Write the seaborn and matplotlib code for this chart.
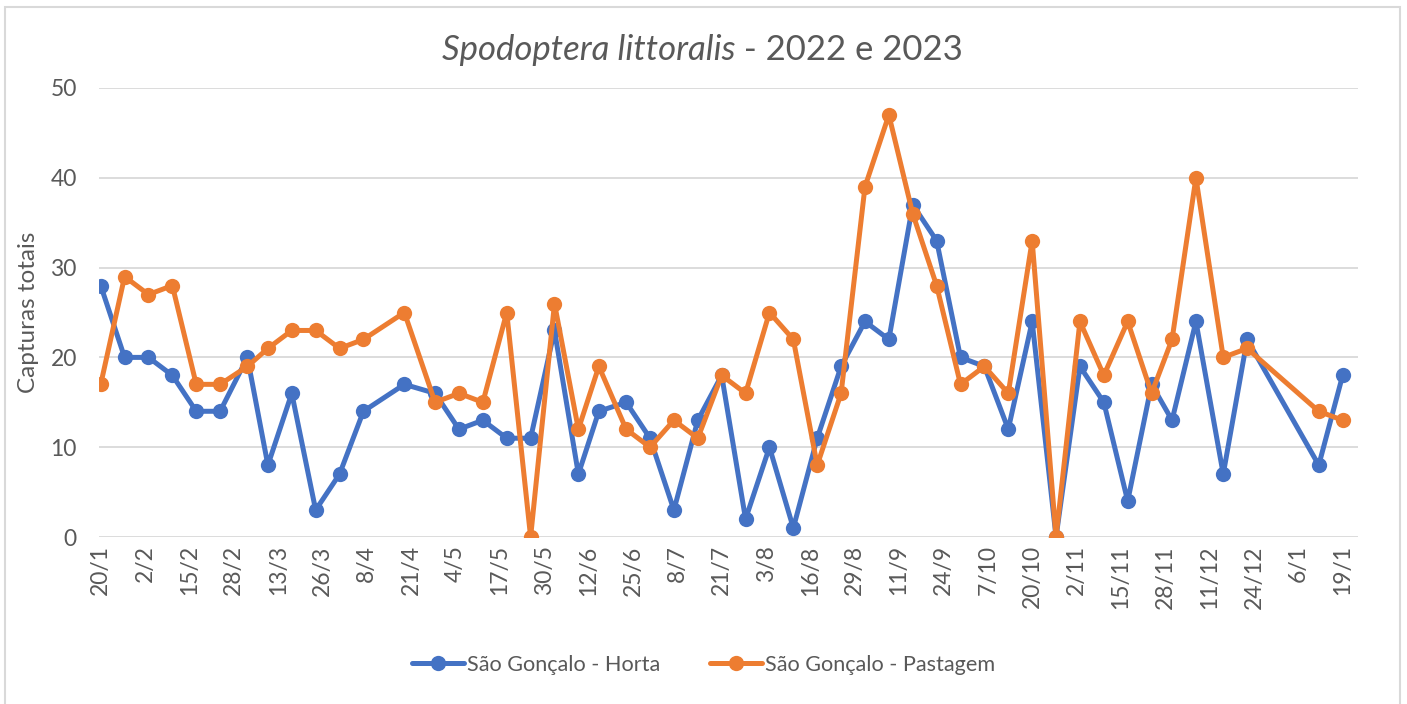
import pandas as pd
import numpy as np
import matplotlib
matplotlib.use("Agg")
import matplotlib.pyplot as plt
import matplotlib.dates as mdates
from matplotlib.ticker import FuncFormatter
from matplotlib.patches import Rectangle
import seaborn as sns

# sampling dates (2022-2023)
datas = ["2022-01-20", "2022-01-27", "2022-02-03", "2022-02-10", "2022-02-17",
         "2022-02-24", "2022-03-04", "2022-03-10", "2022-03-17", "2022-03-24",
         "2022-03-31", "2022-04-07", "2022-04-19", "2022-04-28", "2022-05-05",
         "2022-05-12", "2022-05-19", "2022-05-26", "2022-06-02", "2022-06-09",
         "2022-06-15", "2022-06-23", "2022-06-30", "2022-07-07", "2022-07-14",
         "2022-07-21", "2022-07-28", "2022-08-04", "2022-08-11", "2022-08-18",
         "2022-08-25", "2022-09-01", "2022-09-08", "2022-09-15", "2022-09-22",
         "2022-09-29", "2022-10-06", "2022-10-13", "2022-10-20", "2022-10-27",
         "2022-11-03", "2022-11-10", "2022-11-17", "2022-11-24", "2022-11-30",
         "2022-12-07", "2022-12-15", "2022-12-22", "2023-01-12", "2023-01-19"]

horta = [28, 20, 20, 18, 14, 14, 20, 8, 16, 3,
         7, 14, 17, 16, 12, 13, 11, 11, 23, 7,
         14, 15, 11, 3, 13, 18, 2, 10, 1, 11,
         19, 24, 22, 37, 33, 20, 19, 12, 24, 0,
         19, 15, 4, 17, 13, 24, 7, 22, 8, 18]

pastagem = [17, 29, 27, 28, 17, 17, 19, 21, 23, 23,
            21, 22, 25, 15, 16, 15, 25, 0, 26, 12,
            19, 12, 10, 13, 11, 18, 16, 25, 22, 8,
            16, 39, 47, 36, 28, 17, 19, 16, 33, 0,
            24, 18, 24, 16, 22, 40, 20, 21, 14, 13]

series_names = ["São Gonçalo - Horta", "São Gonçalo - Pastagem"]
cores = ["#4472C4", "#ED7D31"]

# long format table for seaborn
df = pd.DataFrame({
    "data": pd.to_datetime(datas * 2),
    "capturas": horta + pastagem,
    "local": [series_names[0]] * len(horta) + [series_names[1]] * len(pastagem),
})

sns.set_theme(style="white")
plt.rcParams["font.family"] = ["Lato", "DejaVu Sans"]
grey = "#595959"

fig = plt.figure(figsize=(14.07, 7.04), dpi=100)
ax = fig.add_axes([99 / 1407, 1 - 537 / 704, (1358 - 99) / 1407, (537 - 88) / 704])

sns.lineplot(data=df, x="data", y="capturas", hue="local", palette=cores,
             marker="o", markersize=11, markeredgewidth=0, linewidth=3.6,
             legend=False, ax=ax, zorder=3)

# axes
start = pd.Timestamp("2022-01-20")
ax.set_xlim(mdates.date2num(start - pd.Timedelta(hours=12)),
            mdates.date2num(pd.Timestamp("2023-01-19") + pd.Timedelta(days=4.5)))
ticks = pd.date_range(start, "2023-01-19", freq="13D")
ax.set_xticks(mdates.date2num(ticks))
ax.xaxis.set_major_formatter(FuncFormatter(
    lambda v, p: f"{mdates.num2date(v).day}/{mdates.num2date(v).month}"))
ax.set_ylim(0, 50)
ax.set_yticks(range(0, 51, 10))
ax.tick_params(axis="x", labelrotation=90, length=0, labelsize=16.5, labelcolor=grey, pad=6)
ax.tick_params(axis="y", length=0, labelsize=16.5, labelcolor=grey, pad=16)
ax.grid(axis="y", color="#D9D9D9", linewidth=1.3)
ax.set_axisbelow(True)
for s in ax.spines.values():
    s.set_visible(False)
ax.set_xlabel("")
ax.set_ylabel("Capturas totais", fontsize=17.5, color=grey)
ax.yaxis.set_label_coords(-60 / (1358 - 99), 0.5)

# title with italic species name
t1 = fig.text(0, 1 - 60 / 704, "Spodoptera littoralis", fontsize=25, style="italic",
              color=grey, va="baseline", ha="left")
t2 = fig.text(0, 1 - 60 / 704, " - 2022 e 2023", fontsize=25, color=grey,
              va="baseline", ha="left")
fig.canvas.draw()
r = fig.canvas.get_renderer()
w1 = t1.get_window_extent(r).width
w2 = t2.get_window_extent(r).width
x0 = 702.5 - (w1 + w2) / 2
t1.set_x(x0 / 1407)
t2.set_x((x0 + w1) / 1407)

# legend
handles = [plt.Line2D([], [], color=c, marker="o", markersize=11, markeredgewidth=0,
                      linewidth=3.6) for c in cores]
fig.legend(handles, series_names, loc="center", bbox_to_anchor=(0.5, 1 - 665 / 704),
           ncol=2, frameon=False, fontsize=15.6, labelcolor=grey, handlelength=2.4,
           handletextpad=0.15, columnspacing=2.3)

# chart border
fig.patches.append(Rectangle((5 / 1407, -0.02), 1395 / 1407, 1.02 - 7 / 704,
                             transform=fig.transFigure, fill=False,
                             edgecolor="#D9D9D9", linewidth=1.5))

fig.savefig("out.png", dpi=100)
